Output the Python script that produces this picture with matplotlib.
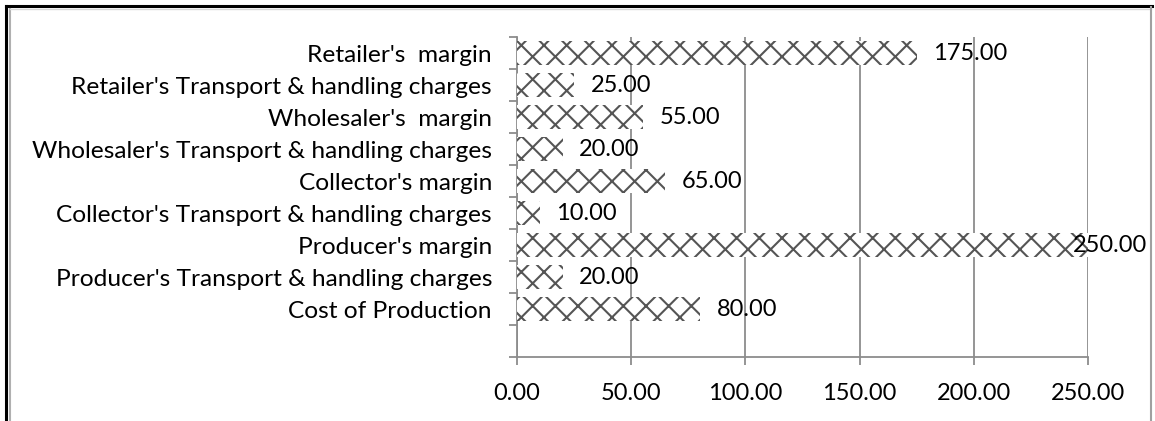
import matplotlib
matplotlib.use("Agg")
import matplotlib.pyplot as plt
from matplotlib.lines import Line2D
from matplotlib.ticker import FixedLocator

categories = [
    "Cost of Production",
    "Producer's Transport & handling charges",
    "Producer's margin",
    "Collector's Transport & handling charges",
    "Collector's margin",
    "Wholesaler's Transport & handling charges",
    "Wholesaler's  margin",
    "Retailer's Transport & handling charges",
    "Retailer's  margin",
]
values = [80, 20, 250, 10, 65, 20, 55, 25, 175]
x_ticks = [0, 50, 100, 150, 200, 250]

# the hatch cell follows the dpi, so a lower dpi gives the denser Excel-like pattern;
# S turns "points at 100 dpi" into points at this dpi
DPI = 68
S = 100 / DPI

plt.rcParams["font.family"] = ["Lato", "DejaVu Sans"]
plt.rcParams["hatch.linewidth"] = 1.5 * S

GRID = "#8c8c8c"
W, H = 1155, 421
fig = plt.figure(figsize=(W / DPI, H / DPI), dpi=DPI)
ax = fig.add_axes([517 / W, 1 - 357 / H, (1088 - 517) / W, 320 / H])

ypos = list(range(len(categories)))
ax.barh(ypos, values, height=0.76, color="white", edgecolor="#555555",
        linewidth=0, hatch="x", zorder=3)

ax.set_xlim(0, 250)
ax.set_ylim(-1.5, len(categories) - 0.5)
ax.set_xticks(x_ticks)
ax.set_xticklabels([f"{v:.2f}" for v in x_ticks], fontsize=17 * S)
ax.set_yticks(ypos)
ax.set_yticklabels(categories, fontsize=17.6 * S)
ax.yaxis.set_minor_locator(FixedLocator([i - 0.5 for i in range(-1, len(categories) + 1)]))
ax.tick_params(axis="y", which="major", length=0, pad=18 * S)
ax.tick_params(axis="y", which="minor", length=6 * S, width=1.3 * S, color=GRID)
ax.tick_params(axis="x", length=6 * S, width=1.3 * S, color=GRID, pad=13 * S)
ax.grid(axis="x", color=GRID, linewidth=1.3 * S, zorder=0)
for s in ["top", "right"]:
    ax.spines[s].set_visible(False)
for s in ["left", "bottom"]:
    ax.spines[s].set_color(GRID)
    ax.spines[s].set_linewidth(1.3 * S)

vmax = max(values)
for y, v in zip(ypos, values):
    dx = -11 if v == vmax else 12
    ax.annotate(f"{v:.2f}", (v, y), xytext=(dx * S, 0), textcoords="offset points",
                va="center", ha="left", fontsize=17 * S, zorder=4)

# outer frame of the chart object
fig.add_artist(Line2D([6 / W, 6 / W], [0, 1 - 6 / H], color="black", lw=2.2 * S))
fig.add_artist(Line2D([6 / W, 1152 / W], [1 - 6 / H, 1 - 6 / H], color="black", lw=2.2 * S))
fig.add_artist(Line2D([10 / W, 10 / W], [0, 1 - 9 / H], color="#b0b0b0", lw=1.5 * S))
fig.add_artist(Line2D([10 / W, 1151 / W], [1 - 9 / H, 1 - 9 / H], color="#d8d8d8", lw=1 * S))
fig.add_artist(Line2D([1151 / W, 1151 / W], [0, 1 - 7 / H], color="#a0a0a0", lw=1.5 * S))

fig.savefig("out.png", dpi=DPI)
